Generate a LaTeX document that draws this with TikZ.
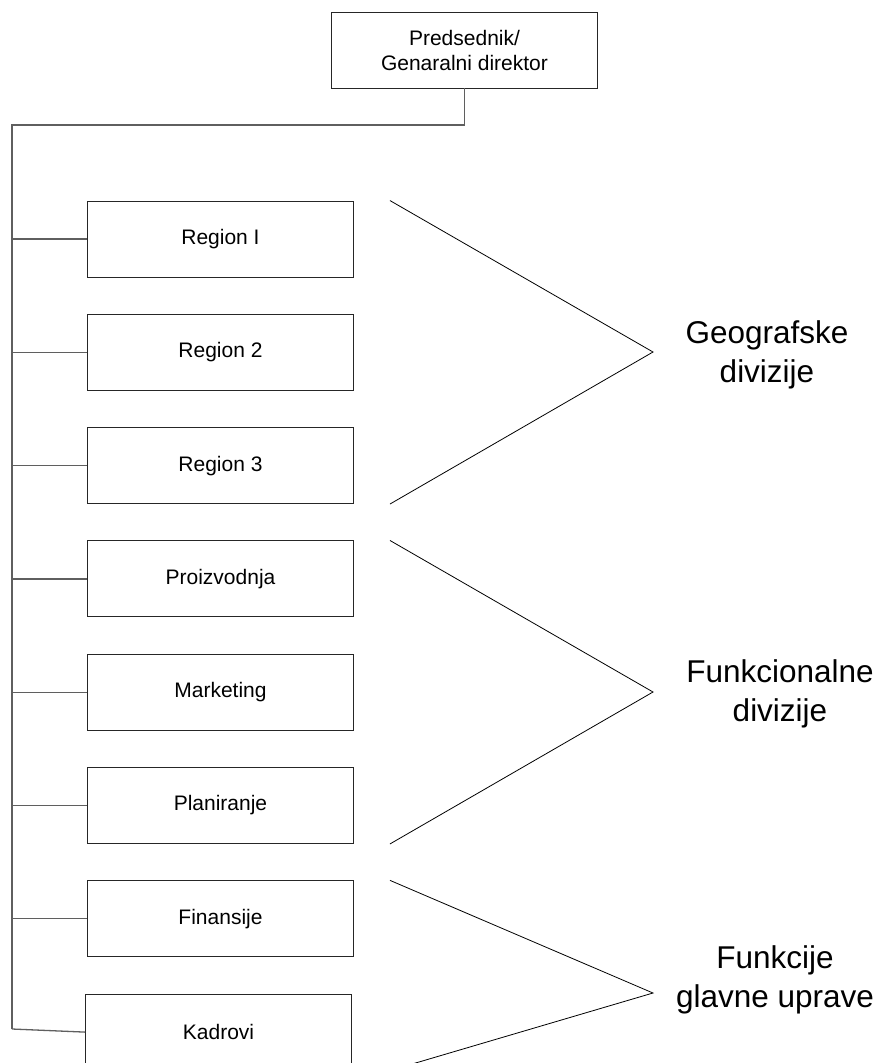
\documentclass[tikz,border=0pt]{standalone}
\usepackage{fontspec}
\setmainfont{Liberation Sans}
\usepackage{tikz}
\usetikzlibrary{positioning,calc}
\definecolor{linegray}{RGB}{95,95,95}
\tikzstyle{unit} = [rectangle, minimum width=266pt, minimum height=76pt, text centered, align=center, draw=black!85, line width=0.9pt, font=\fontsize{21}{25}\selectfont]
\tikzstyle{conn} = [draw=linegray, line width=1.3pt]
\tikzstyle{brace} = [draw=black, line width=0.8pt]
\tikzstyle{group} = [align=center, font=\fontsize{31.5}{38.5}\selectfont]

\begin{document}
\begin{tikzpicture}[x=1pt, y=-1pt, node distance=113.3pt]
    \useasboundingbox (0,0) rectangle (879,1063);

    \node (ceo) [unit] at (464.5,50) {Predsednik/\\Genaralni direktor};

    \node (reg1) [unit] at (220.5,239) {Region I};
    \node (reg2) [unit, below of=reg1] {Region 2};
    \node (reg3) [unit, below of=reg2] {Region 3};
    \node (prod) [unit, below of=reg3] {Proizvodnja};
    \node (mark) [unit, below of=prod] {Marketing};
    \node (plan) [unit, below of=mark] {Planiranje};
    \node (fin) [unit, below of=plan] {Finansije};
    \node (kadr) [unit, below of=fin, xshift=-2pt] {Kadrovi};

    % trunk
    \coordinate (trunktop) at (12,125);
    \coordinate (trunkend) at (12,1029);
    \draw[conn] (ceo.south) |- (trunktop) -- (trunkend);

    \foreach \u in {reg1,reg2,reg3,prod,mark,plan,fin}
      \draw[conn] (\u.west) -- (\u.west -| trunktop);
    \draw[conn] (kadr.west) -- (trunkend);

    % groups
    \coordinate (geo) at (653,352);
    \coordinate (fun) at (653,692);
    \coordinate (hq) at (653,993);

    \draw[brace] ([xshift=36pt]reg1.north east) -- (geo) -- ([xshift=36pt]reg3.south east);
    \draw[brace] ([xshift=36pt]prod.north east) -- (fun) -- ([xshift=36pt]plan.south east);
    \draw[brace] ([xshift=36pt]fin.north east) -- (hq) -- ([xshift=38pt]kadr.south east);

    \node (geolabel) [group] at (767,355) {Geografske\\divizije};
    \node (funlabel) [group] at (780,694) {Funkcionalne\\divizije};
    \node (hqlabel) [group] at (775,980) {Funkcije\\glavne uprave};

\end{tikzpicture}
\end{document}
